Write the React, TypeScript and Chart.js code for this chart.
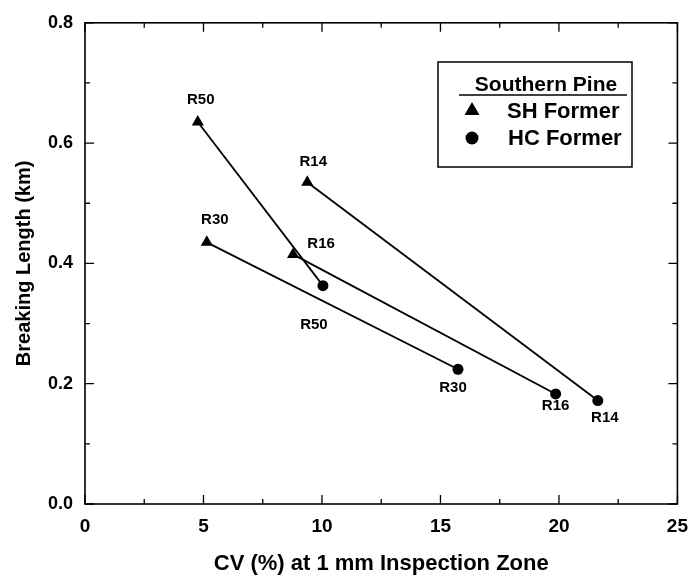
import React, { useEffect, useRef } from "react";
import { Chart, registerables } from "chart.js";

Chart.register(...registerables);

// ---- data ----
const ringLabels = ["R50", "R30", "R16", "R14"];
const shCV = [4.76, 5.14, 8.78, 9.38];
const shBreaking = [0.635, 0.435, 0.415, 0.535];
const hcCV = [10.04, 15.74, 19.86, 21.64];
const hcBreaking = [0.363, 0.224, 0.183, 0.172];

const xTickValues = [0, 5, 10, 15, 20, 25];
const yTickValues = [0, 0.2, 0.4, 0.6, 0.8];

const legendTitle = "Southern Pine";
const seriesNames = ["SH Former", "HC Former"];
const xTitle = "CV (%) at 1 mm Inspection Zone";
const yTitle = "Breaking Length (km)";

// ---- label placement (pixel offsets from each point, styling only) ----
const shLabelOffsets = [
  [3, -22],
  [8, -22],
  [28, -11],
  [6, -20],
];
const hcLabelOffsets = [
  [-9, 39],
  [-5, 19],
  [0, 12],
  [7, 17],
];

const FONT = "'Liberation Sans', Arial, Helvetica, sans-serif";

const framePlugin = {
  id: "frameTicks",
  afterDatasetsDraw(chart: any) {
    const { ctx, chartArea } = chart;
    const xs = chart.scales.x;
    const ys = chart.scales.y;
    const { left, right, top, bottom } = chartArea;
    ctx.save();
    ctx.strokeStyle = "#000";
    ctx.lineWidth = 1.6;
    ctx.strokeRect(left, top, right - left, bottom - top);
    ctx.lineWidth = 1.3;
    ctx.beginPath();
    for (let i = 0; i <= 10; i++) {
      const v = i * 2.5;
      const len = i % 2 === 0 ? 9 : 5;
      const px = xs.getPixelForValue(v);
      ctx.moveTo(px, bottom);
      ctx.lineTo(px, bottom - len);
      ctx.moveTo(px, top);
      ctx.lineTo(px, top + len);
    }
    for (let i = 0; i <= 8; i++) {
      const v = i * 0.1;
      const len = i % 2 === 0 ? 9 : 5;
      const py = ys.getPixelForValue(v);
      ctx.moveTo(left, py);
      ctx.lineTo(left + len, py);
      ctx.moveTo(right, py);
      ctx.lineTo(right - len, py);
    }
    ctx.stroke();

    // point labels
    ctx.fillStyle = "#000";
    ctx.font = `bold 15px ${FONT}`;
    ctx.textAlign = "center";
    ctx.textBaseline = "middle";
    ringLabels.forEach((lab, i) => {
      const sx = xs.getPixelForValue(shCV[i]);
      const sy = ys.getPixelForValue(shBreaking[i]);
      ctx.fillText(lab, sx + shLabelOffsets[i][0], sy + shLabelOffsets[i][1]);
      const hx = xs.getPixelForValue(hcCV[i]);
      const hy = ys.getPixelForValue(hcBreaking[i]);
      ctx.fillText(lab, hx + hcLabelOffsets[i][0], hy + hcLabelOffsets[i][1]);
    });

    // legend box
    const bx = 438, by = 62, bw = 194, bh = 105;
    ctx.lineWidth = 1.5;
    ctx.strokeRect(bx, by, bw, bh);
    ctx.font = `bold 21px ${FONT}`;
    ctx.textAlign = "left";
    ctx.textBaseline = "alphabetic";
    const tw = ctx.measureText(legendTitle).width;
    const tx = 546 - tw / 2;
    ctx.fillText(legendTitle, tx, 91);
    ctx.lineWidth = 1.3;
    ctx.beginPath();
    ctx.moveTo(459, 95);
    ctx.lineTo(627, 95);
    ctx.stroke();

    ctx.font = `bold 22px ${FONT}`;
    ctx.textBaseline = "middle";
    ctx.fillText(seriesNames[0], 507, 112);
    ctx.fillText(seriesNames[1], 508, 139);
    // legend markers
    ctx.beginPath();
    ctx.moveTo(472, 102);
    ctx.lineTo(479.5, 115);
    ctx.lineTo(464.5, 115);
    ctx.closePath();
    ctx.fill();
    ctx.beginPath();
    ctx.arc(472, 138, 6.5, 0, Math.PI * 2);
    ctx.fill();
    ctx.restore();
  },
};

export default function App() {
  const ref = useRef<HTMLCanvasElement | null>(null);
  useEffect(() => {
    document.body.style.margin = "0";
    const pairDatasets = ringLabels.map((lab, i) => ({
      label: lab,
      data: [
        { x: shCV[i], y: shBreaking[i] },
        { x: hcCV[i], y: hcBreaking[i] },
      ],
      showLine: true,
      borderColor: "#000",
      borderWidth: 1.8,
      pointRadius: 0,
      fill: false,
    }));
    const chart = new Chart(ref.current as HTMLCanvasElement, {
      type: "scatter",
      data: {
        datasets: [
          ...pairDatasets,
          {
            label: seriesNames[0],
            data: shCV.map((x, i) => ({ x, y: shBreaking[i] })),
            pointStyle: "triangle",
            pointRadius: 7,
            backgroundColor: "#000",
            borderColor: "#000",
            borderWidth: 0,
          },
          {
            label: seriesNames[1],
            data: hcCV.map((x, i) => ({ x, y: hcBreaking[i] })),
            pointStyle: "circle",
            pointRadius: 5.5,
            backgroundColor: "#000",
            borderColor: "#000",
            borderWidth: 0,
          },
        ] as any,
      },
      options: {
        animation: false,
        responsive: false,
        layout: { padding: { top: 20, right: 14, left: 0, bottom: 0 } },
        plugins: { legend: { display: false }, tooltip: { enabled: false } },
        scales: {
          x: {
            type: "linear",
            min: 0,
            max: 25,
            afterFit: (s: any) => {
              s.height = 76;
            },
            afterBuildTicks: (s: any) => {
              s.ticks = xTickValues.map((v) => ({ value: v }));
            },
            grid: { display: false, drawTicks: false },
            border: { display: false },
            ticks: {
              padding: 11,
              color: "#000",
              font: { family: FONT, size: 19, weight: "bold" },
              callback: (v: any) => String(v),
            },
            title: {
              display: true,
              text: xTitle,
              color: "#000",
              font: { family: FONT, size: 22, weight: "bold" },
              padding: { top: 0, bottom: 3 },
            },
          },
          y: {
            type: "linear",
            min: 0,
            max: 0.8,
            afterFit: (s: any) => {
              s.width = 85;
            },
            afterBuildTicks: (s: any) => {
              s.ticks = yTickValues.map((v) => ({ value: v }));
            },
            grid: { display: false, drawTicks: false },
            border: { display: false },
            ticks: {
              padding: 12,
              color: "#000",
              font: { family: FONT, size: 18, weight: "bold" },
              callback: (v: any) => Number(v).toFixed(1),
            },
            title: {
              display: true,
              text: yTitle,
              color: "#000",
              font: { family: FONT, size: 20, weight: "bold" },
              padding: { top: 12, bottom: 0 },
            },
          },
        },
      } as any,
      plugins: [framePlugin],
    });
    return () => chart.destroy();
  }, []);
  return (
    <div style={{ width: 699, height: 580, background: "#fff" }}>
      <canvas ref={ref} width={699} height={580} style={{ display: "block" }} />
    </div>
  );
}
